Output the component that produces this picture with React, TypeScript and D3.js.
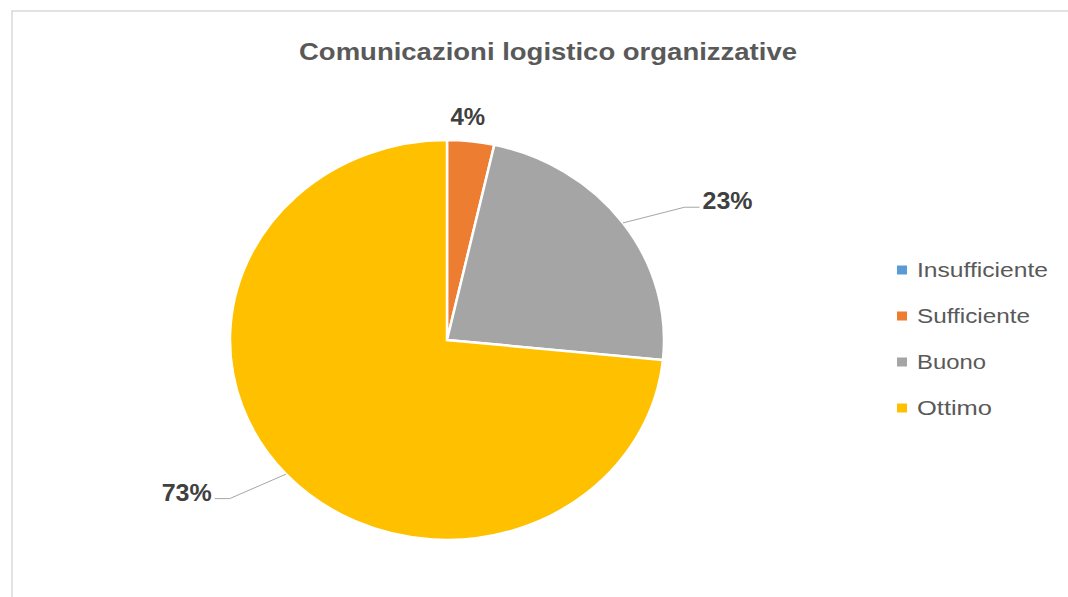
import { useEffect, useRef } from 'react';
import * as d3 from 'd3';

// data (percent of answers)
const categories = ['Insufficiente', 'Sufficiente', 'Buono', 'Ottimo'];
const values = [0, 3.5, 23.1, 73.4];
const colors = ['#5B9BD5', '#ED7D31', '#A5A5A5', '#FFC000'];
const title = 'Comunicazioni logistico organizzative';

const WIDTH = 1068;
const HEIGHT = 597;
const CX = 447;
const CY = 340;
const R = 200;
const X_STRETCH = 1.085; // the source image is a bit wider than tall

export default function App() {
  const svgRef = useRef<SVGSVGElement>(null);

  useEffect(() => {
    if (!svgRef.current) return;
    const svg = d3.select(svgRef.current);
    svg.selectAll('*').remove();

    // chart area border (runs off the right and bottom)
    svg
      .append('rect')
      .attr('x', 12)
      .attr('y', 11)
      .attr('width', WIDTH + 40)
      .attr('height', HEIGHT + 40)
      .attr('fill', '#fff')
      .attr('stroke', '#d9d9d9')
      .attr('stroke-width', 1.5);

    // Title
    svg
      .append('text')
      .attr('x', 548)
      .attr('y', 60)
      .attr('text-anchor', 'middle')
      .attr('font-size', 24)
      .attr('font-weight', 'bold')
      .attr('fill', '#595959')
      .attr('textLength', 498)
      .attr('lengthAdjust', 'spacingAndGlyphs')
      .text(title);

    const data = categories.map((c, i) => ({ name: c, value: values[i], color: colors[i] }));
    const total = d3.sum(values);

    const pie = d3
      .pie<(typeof data)[number]>()
      .sort(null)
      .value((d) => d.value);
    const arcs = pie(data);

    const arc = d3.arc<d3.PieArcDatum<(typeof data)[number]>>().innerRadius(0).outerRadius(R);

    const g = svg
      .append('g')
      .attr('transform', `translate(${CX},${CY}) scale(${X_STRETCH},1)`);

    g.selectAll('path')
      .data(arcs.filter((a) => a.value > 0))
      .join('path')
      .attr('d', arc)
      .attr('fill', (d) => d.data.color)
      .attr('stroke', '#fff')
      .attr('stroke-width', 2.5)
      .attr('vector-effect', 'non-scaling-stroke');

    // data labels
    const pct = d3.format('.0%');
    arcs
      .filter((a) => a.value > 0)
      .forEach((a) => {
        const mid = (a.startAngle + a.endAngle) / 2;
        const ex = Math.sin(mid) * R * X_STRETCH;
        const ey = -Math.cos(mid) * R;
        const label = pct(a.value / total);
        const small = a.endAngle - a.startAngle < 0.4;

        if (small) {
          svg
            .append('text')
            .attr('x', CX + ex - 3)
            .attr('y', CY + ey * 1.12 + 8)
            .attr('text-anchor', 'middle')
            .attr('font-family', '"Liberation Sans", Arial, sans-serif')
            .attr('font-size', 24)
            .attr('font-weight', 'bold')
            .attr('fill', '#404040')
            .text(label);
          return;
        }

        const bx = ex * 1.35;
        const by = ey * 1.16 + 3;
        const side = ex >= 0 ? 1 : -1;
        const tx = bx + side * 15;

        svg
          .append('polyline')
          .attr(
            'points',
            [
              [CX + ex, CY + ey],
              [CX + bx, CY + by],
              [CX + tx, CY + by],
            ]
              .map((p) => p.join(','))
              .join(' ')
          )
          .attr('fill', 'none')
          .attr('stroke', '#a6a6a6')
          .attr('stroke-width', 1);

        svg
          .append('text')
          .attr('x', CX + tx + side * 3)
          .attr('y', CY + by + 2)
          .attr('text-anchor', side > 0 ? 'start' : 'end')
          .attr('font-family', '"Liberation Sans", Arial, sans-serif')
          .attr('font-size', 24)
          .attr('font-weight', 'bold')
          .attr('fill', '#404040')
          .attr('textLength', 50)
          .attr('lengthAdjust', 'spacingAndGlyphs')
          .text(label);
      });

    // Legend
    const legendWidths = [131, 113, 69, 75];
    const legend = svg.append('g').attr('transform', 'translate(897,270)');
    data.forEach((d, i) => {
      const y = i * 46;
      legend
        .append('rect')
        .attr('x', 0)
        .attr('y', y - 4.5)
        .attr('width', 10)
        .attr('height', 9)
        .attr('fill', d.color);
      legend
        .append('text')
        .attr('x', 20)
        .attr('y', y + 7)
        .attr('font-size', 21)
        .attr('fill', '#595959')
        .attr('textLength', legendWidths[i])
        .attr('lengthAdjust', 'spacingAndGlyphs')
        .text(d.name);
    });
  }, []);

  return (
    <svg
      ref={svgRef}
      width={WIDTH}
      height={HEIGHT}
      style={{
        position: 'absolute',
        left: 0,
        top: 0,
        fontFamily: '"Liberation Sans", Arial, sans-serif',
      }}
    />
  );
}
